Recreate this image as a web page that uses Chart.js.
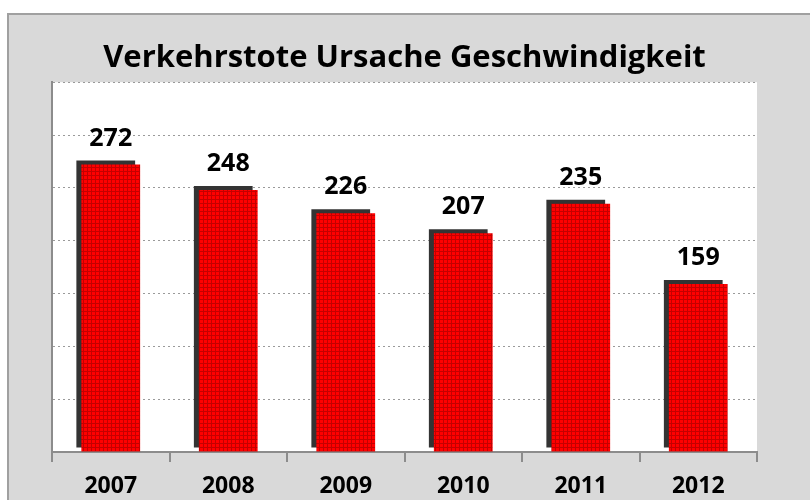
<!DOCTYPE html>
<html lang="de">
<head>
<meta charset="UTF-8">
<title>Verkehrstote Ursache Geschwindigkeit</title>
<script src="https://cdn.jsdelivr.net/npm/chart.js@4"></script>
<style>
  html, body { margin: 0; padding: 0; background: #fff; }
  #wrap { width: 810px; height: 500px; }
</style>
</head>
<body>
<div id="wrap"><canvas id="chart" width="810" height="500"></canvas></div>
<script>
// Jahre und Werte
const years = ['2007', '2008', '2009', '2010', '2011', '2012'];
const deaths = [272, 248, 226, 207, 235, 159];
const yMax = 350;
const yStep = 50;

const FONT = '"Open Sans", "Noto Sans", sans-serif';

// rotes Gittermuster für die Balken
function makePattern() {
  const c = document.createElement('canvas');
  c.width = 4; c.height = 4;
  const g = c.getContext('2d');
  g.fillStyle = '#ff0000';
  g.fillRect(0, 0, 4, 4);
  g.fillStyle = '#c40000';
  g.fillRect(0, 3, 4, 1);
  g.fillRect(3, 0, 1, 4);
  return g.createPattern(c, 'repeat');
}
const redPattern = makePattern();

// Hintergrund: grauer Rahmen, weisse Zeichenfläche
const background = {
  id: 'background',
  beforeDraw(chart) {
    const ctx = chart.ctx, a = chart.chartArea;
    ctx.save();
    ctx.fillStyle = '#fff';
    ctx.fillRect(0, 0, chart.width, chart.height);
    ctx.fillStyle = '#d9d9d9';
    ctx.fillRect(7, 13, chart.width - 7, chart.height - 13);
    ctx.strokeStyle = '#a0a0a0';
    ctx.lineWidth = 2;
    ctx.beginPath();
    ctx.moveTo(8, chart.height);
    ctx.lineTo(8, 14);
    ctx.lineTo(chart.width, 14);
    ctx.stroke();
    ctx.fillStyle = '#fff';
    ctx.fillRect(a.left, a.top, a.right - a.left, a.bottom - a.top);
    ctx.restore();
  }
};

// dunkler Schatten oben links
const barShadow = {
  id: 'barShadow',
  beforeDatasetDraw(chart) {
    const ctx = chart.ctx;
    ctx.save();
    ctx.shadowColor = '#333333';
    ctx.shadowOffsetX = -5;
    ctx.shadowOffsetY = -4;
    ctx.shadowBlur = 0;
  },
  afterDatasetDraw(chart) {
    chart.ctx.restore();
  }
};

// Werte über den Balken
const valueLabels = {
  id: 'valueLabels',
  afterDatasetsDraw(chart) {
    const ctx = chart.ctx;
    const meta = chart.getDatasetMeta(0);
    ctx.save();
    ctx.font = 'bold 25px ' + FONT;
    ctx.fillStyle = '#000';
    ctx.textAlign = 'center';
    ctx.textBaseline = 'alphabetic';
    meta.data.forEach((bar, i) => {
      ctx.fillText(String(deaths[i]), bar.x, bar.y - 19);
    });
    ctx.restore();
  }
};

new Chart(document.getElementById('chart'), {
  type: 'bar',
  data: {
    labels: years,
    datasets: [{
      data: deaths,
      backgroundColor: redPattern,
      borderWidth: 0,
      barPercentage: 0.5,
      categoryPercentage: 1
    }]
  },
  options: {
    responsive: false,
    animation: false,
    layout: { padding: { left: 52, right: 53, top: 0, bottom: 0 } },
    plugins: {
      legend: { display: false },
      tooltip: { enabled: false },
      title: {
        display: true,
        text: 'Verkehrstote Ursache Geschwindigkeit',
        color: '#000',
        font: { family: FONT, size: 31, weight: 'bold', lineHeight: 1.2 },
        padding: { top: 40, bottom: 5 }
      }
    },
    scales: {
      x: {
        grid: {
          drawOnChartArea: false,
          drawTicks: true,
          tickLength: 10,
          color: '#8c8c8c',
          lineWidth: 2
        },
        border: { color: '#8c8c8c', width: 2 },
        ticks: {
          color: '#000',
          padding: 11,
          font: { family: FONT, size: 23, weight: 'bold' }
        },
        afterFit(s) { s.height = 48; }
      },
      y: {
        min: 0,
        max: yMax,
        ticks: { display: false, stepSize: yStep },
        grid: {
          drawTicks: false,
          color: '#9a9a9a',
          lineWidth: 1
        },
        border: { color: '#8c8c8c', width: 2, dash: [2, 3] },
        afterFit(s) { s.width = 0; }
      }
    }
  },
  plugins: [background, barShadow, valueLabels]
});
</script>
</body>
</html>
